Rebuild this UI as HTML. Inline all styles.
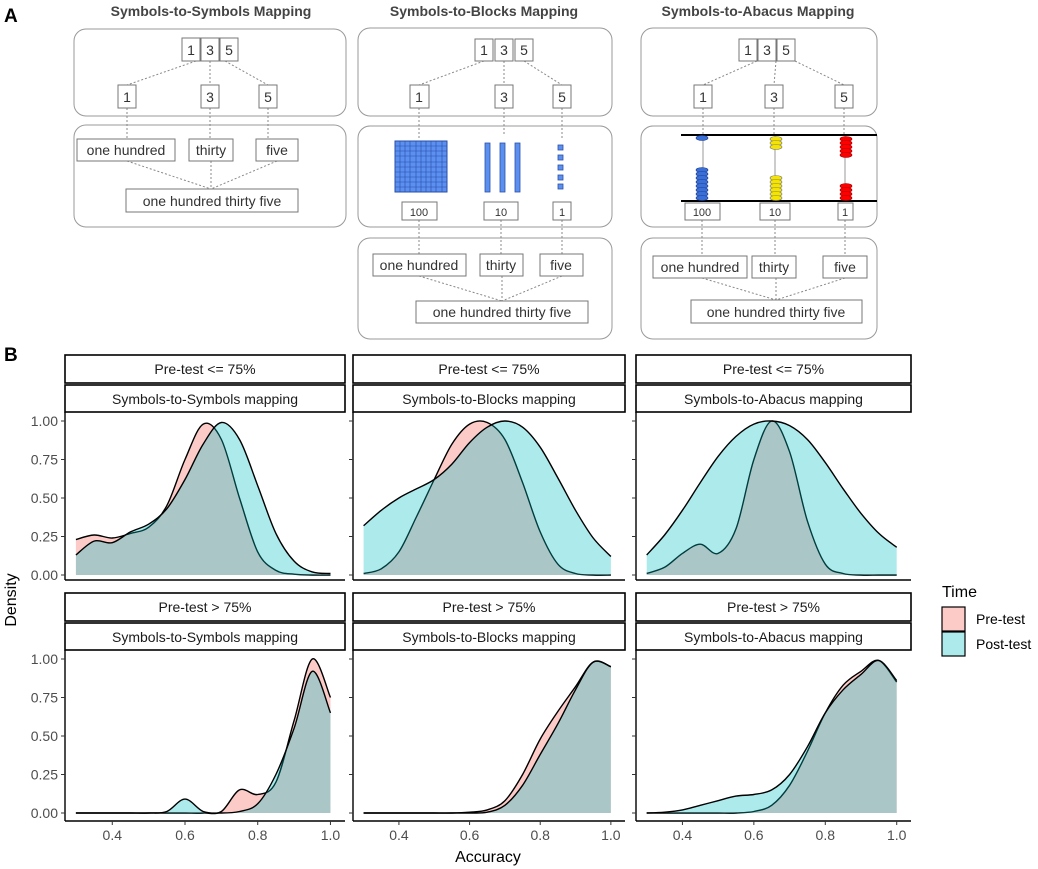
<!DOCTYPE html>
<html><head><meta charset="utf-8"><style>
body{margin:0;background:#fff}
svg{display:block;font-family:"Liberation Sans",Arial,sans-serif}
</style></head><body>
<svg id="fig" width="1038" height="869" viewBox="0 0 1038 869" xmlns="http://www.w3.org/2000/svg">
<rect width="1038" height="869" fill="#fff"/>
<g id="panelA" font-size="14" fill="#333">
<text x="4" y="22" font-size="19" font-weight="bold" fill="#000">A</text>
<!-- column 1 -->
<text x="211" y="16" text-anchor="middle" font-size="14" font-weight="bold" fill="#444">Symbols-to-Symbols Mapping</text>
<rect x="74" y="29" width="272" height="87" rx="12" fill="none" stroke="#999"/>
<rect x="74" y="125" width="272" height="102" rx="12" fill="none" stroke="#999"/>
<g stroke="#888" stroke-dasharray="2,2" fill="none">
<path d="M196 61 L127 85 M210 61 L210 85 M225 61 L268 85 M127 108 L127 139 M210 108 L210 139 M268 108 L268 139 M127 161 L211 189 M211 161 L211 189 M277 161 L211 189"/>
</g>
<g fill="#fff" stroke="#777">
<rect x="182" y="38" width="18" height="23"/><rect x="201" y="38" width="18" height="23"/><rect x="220" y="38" width="18" height="23"/>
<rect x="118" y="85" width="18" height="23"/><rect x="201" y="85" width="18" height="23"/><rect x="259" y="85" width="18" height="23"/>
<rect x="77" y="139" width="98" height="22"/><rect x="189" y="139" width="44" height="22"/><rect x="256" y="139" width="42" height="22"/>
<rect x="126" y="189" width="172" height="23"/>
</g>
<g text-anchor="middle">
<text x="191" y="55">1</text><text x="210" y="55">3</text><text x="229" y="55">5</text>
<text x="127" y="102">1</text><text x="210" y="102">3</text><text x="268" y="102">5</text>
<text x="126" y="155">one hundred</text><text x="211" y="155">thirty</text><text x="277" y="155">five</text>
<text x="212" y="206">one hundred thirty five</text>
</g>
<!-- column 2 -->
<text x="484" y="16" text-anchor="middle" font-size="14" font-weight="bold" fill="#444">Symbols-to-Blocks Mapping</text>
<rect x="358" y="28" width="254" height="88" rx="12" fill="none" stroke="#999"/>
<rect x="358" y="126" width="254" height="101" rx="12" fill="none" stroke="#999"/>
<rect x="358" y="238" width="254" height="101" rx="12" fill="none" stroke="#999"/>
<g stroke="#888" stroke-dasharray="2,2" fill="none">
<path d="M484 61 L419 85 M504 61 L504 85 M524 61 L562 85 M419 108 L419 138 M504 108 L504 134 M562 108 L562 140 M419 220 L419 254 M501 220 L501 254 M562 220 L562 254 M419 276 L502 301 M502 276 L502 301 M562 276 L502 301"/>
</g>
<g fill="#fff" stroke="#777">
<rect x="475" y="39" width="18" height="22"/><rect x="495" y="39" width="18" height="22"/><rect x="515" y="39" width="18" height="22"/>
<rect x="410" y="85" width="19" height="23"/><rect x="495" y="85" width="18" height="23"/><rect x="553" y="85" width="18" height="23"/>
<rect x="402" y="202" width="35" height="18"/><rect x="484" y="202" width="34" height="18"/><rect x="553" y="202" width="18" height="18"/>
<rect x="373" y="254" width="93" height="22"/><rect x="480" y="254" width="43" height="22"/><rect x="540" y="254" width="43" height="22"/>
<rect x="416" y="301" width="172" height="22"/>
</g>
<g text-anchor="middle">
<text x="484" y="55">1</text><text x="504" y="55">3</text><text x="524" y="55">5</text>
<text x="419" y="102">1</text><text x="504" y="102">3</text><text x="562" y="102">5</text>
<text x="419" y="216" font-size="11">100</text><text x="501" y="216" font-size="11">10</text><text x="562" y="216" font-size="11">1</text>
<text x="419" y="270">one hundred</text><text x="501" y="270">thirty</text><text x="561" y="270">five</text>
<text x="502" y="317">one hundred thirty five</text>
</g>
<g>
<rect x="395" y="141" width="52" height="51" fill="#5b8ff0" stroke="#2a4fa8"/>
<path d="M400 141V192M405 141V192M410 141V192M416 141V192M421 141V192M426 141V192M431 141V192M436 141V192M442 141V192M395 146H447M395 151H447M395 156H447M395 162H447M395 167H447M395 172H447M395 177H447M395 182H447M395 187H447" stroke="#2a4fa8" stroke-width="0.6"/>
</g>
<g fill="#5b8ff0" stroke="#2a4fa8" stroke-width="0.8">
<rect x="485" y="143" width="5" height="49"/><rect x="500" y="143" width="5" height="49"/><rect x="515" y="143" width="5" height="49"/>
</g>
<g fill="#5b8ff0" stroke="#2a4fa8" stroke-width="0.8">
<rect x="558" y="145" width="5" height="5"/><rect x="558" y="155" width="5" height="5"/><rect x="558" y="165" width="5" height="5"/><rect x="558" y="175" width="5" height="5"/><rect x="558" y="184" width="5" height="5"/>
</g>
<!-- column 3 -->
<text x="758" y="16" text-anchor="middle" font-size="14" font-weight="bold" fill="#444">Symbols-to-Abacus Mapping</text>
<rect x="641" y="28" width="236" height="88" rx="12" fill="none" stroke="#999"/>
<rect x="641" y="126" width="236" height="101" rx="12" fill="none" stroke="#999"/>
<rect x="641" y="238" width="236" height="101" rx="12" fill="none" stroke="#999"/>
<g stroke="#888" stroke-dasharray="2,2" fill="none">
<path d="M757 61 L703 85 M776 61 L774 85 M795 61 L844 85 M703 108 L703 134 M774 108 L774 134 M844 108 L844 134 M702 220 L702 256 M775 220 L775 256 M845 220 L845 256 M702 278 L776 300 M776 278 L776 300 M845 278 L776 300"/>
</g>
<g>
<path d="M703 135V201M775 135V201M845 135V201" stroke="#999"/>
<path d="M681 135H877M681 201H877" stroke="#000" stroke-width="2"/>
<g fill="#3a6fd8" stroke="#1a3a8a" stroke-width="0.6">
<ellipse cx="702" cy="138" rx="6" ry="2.5"/>
<ellipse cx="702" cy="170" rx="6" ry="2.5"/><ellipse cx="702" cy="174" rx="6" ry="2.5"/><ellipse cx="702" cy="178" rx="6" ry="2.5"/><ellipse cx="702" cy="182" rx="6" ry="2.5"/><ellipse cx="702" cy="186" rx="6" ry="2.5"/><ellipse cx="702" cy="190" rx="6" ry="2.5"/><ellipse cx="702" cy="194" rx="6" ry="2.5"/><ellipse cx="702" cy="198" rx="6" ry="2.5"/>
</g>
<g fill="#f5e400" stroke="#777" stroke-width="0.6">
<ellipse cx="776" cy="139" rx="6" ry="2.5"/><ellipse cx="776" cy="143" rx="6" ry="2.5"/><ellipse cx="776" cy="147" rx="6" ry="2.5"/>
<ellipse cx="776" cy="178" rx="6" ry="2.5"/><ellipse cx="776" cy="182" rx="6" ry="2.5"/><ellipse cx="776" cy="186" rx="6" ry="2.5"/><ellipse cx="776" cy="190" rx="6" ry="2.5"/><ellipse cx="776" cy="194" rx="6" ry="2.5"/><ellipse cx="776" cy="198" rx="6" ry="2.5"/>
</g>
<g fill="#f00" stroke="#900" stroke-width="0.6">
<ellipse cx="846" cy="139" rx="6" ry="2.5"/><ellipse cx="846" cy="143" rx="6" ry="2.5"/><ellipse cx="846" cy="147" rx="6" ry="2.5"/><ellipse cx="846" cy="151" rx="6" ry="2.5"/><ellipse cx="846" cy="155" rx="6" ry="2.5"/>
<ellipse cx="846" cy="186" rx="6" ry="2.5"/><ellipse cx="846" cy="190" rx="6" ry="2.5"/><ellipse cx="846" cy="194" rx="6" ry="2.5"/><ellipse cx="846" cy="198" rx="6" ry="2.5"/>
</g>
</g>
<g fill="#fff" stroke="#777">
<rect x="739" y="39" width="18" height="22"/><rect x="758" y="39" width="18" height="22"/><rect x="777" y="39" width="18" height="22"/>
<rect x="694" y="85" width="18" height="23"/><rect x="765" y="85" width="18" height="23"/><rect x="835" y="85" width="18" height="23"/>
<rect x="685" y="203" width="35" height="17"/><rect x="760" y="203" width="30" height="17"/><rect x="838" y="203" width="15" height="17"/>
<rect x="653" y="256" width="94" height="22"/><rect x="752" y="256" width="44" height="22"/><rect x="823" y="256" width="44" height="22"/>
<rect x="691" y="300" width="171" height="23"/>
</g>
<g text-anchor="middle">
<text x="748" y="55">1</text><text x="767" y="55">3</text><text x="786" y="55">5</text>
<text x="703" y="102">1</text><text x="774" y="102">3</text><text x="844" y="102">5</text>
<text x="702" y="216" font-size="11">100</text><text x="775" y="216" font-size="11">10</text><text x="845" y="216" font-size="11">1</text>
<text x="700" y="272">one hundred</text><text x="774" y="272">thirty</text><text x="845" y="272">five</text>
<text x="776" y="317">one hundred thirty five</text>
</g>
</g>
<g id="panelB"></g>
</svg>
<script>
const xGrid=[0.3,0.35,0.4,0.45,0.5,0.55,0.6,0.65,0.7,0.75,0.8,0.85,0.9,0.95,1.0];
const xTicks=[0.4,0.6,0.8,1.0];
const xTickLabels=["0.4","0.6","0.8","1.0"];
const yTicks=[0,0.25,0.5,0.75,1];
const yTickLabels=["0.00","0.25","0.50","0.75","1.00"];
const rowLabels=["Pre-test <= 75%","Pre-test > 75%"];
const colLabels=["Symbols-to-Symbols mapping","Symbols-to-Blocks mapping","Symbols-to-Abacus mapping"];
const seriesNames=["Pre-test","Post-test"];
const preLowS2S=[0.23,0.26,0.24,0.27,0.31,0.45,0.75,0.98,0.88,0.5,0.15,0.03,0.005,0,0];
const postLowS2S=[0.13,0.22,0.21,0.28,0.33,0.43,0.62,0.85,0.99,0.88,0.58,0.27,0.09,0.02,0.01];
const preLowS2B=[0.01,0.04,0.15,0.38,0.62,0.85,0.98,0.99,0.88,0.6,0.28,0.07,0.01,0,0];
const postLowS2B=[0.32,0.42,0.5,0.56,0.62,0.72,0.86,0.96,1.0,0.96,0.83,0.63,0.42,0.24,0.12];
const preLowS2A=[0.01,0.05,0.14,0.2,0.14,0.3,0.75,1.0,0.8,0.35,0.07,0.01,0,0,0];
const postLowS2A=[0.13,0.26,0.42,0.6,0.77,0.9,0.98,1.0,0.97,0.88,0.73,0.56,0.4,0.27,0.18];
const preHighS2S=[0,0,0,0,0,0,0,0,0.01,0.15,0.12,0.2,0.6,1.0,0.75];
const postHighS2S=[0,0,0,0,0,0.01,0.09,0.01,0,0.01,0.06,0.25,0.55,0.92,0.65];
const preHighS2B=[0,0,0,0,0,0,0.005,0.02,0.08,0.25,0.48,0.66,0.82,0.98,0.95];
const postHighS2B=[0,0,0,0,0,0,0,0.005,0.05,0.18,0.38,0.58,0.8,0.98,0.95];
const preHighS2A=[0,0,0,0,0,0,0.01,0.05,0.18,0.4,0.65,0.83,0.92,0.99,0.85];
const postHighS2A=[0,0.005,0.02,0.05,0.08,0.11,0.12,0.15,0.25,0.43,0.65,0.8,0.9,0.99,0.86];
const panelData=[[[preLowS2S,postLowS2S],[preLowS2B,postLowS2B],[preLowS2A,postLowS2A]],
 [[preHighS2S,postHighS2S],[preHighS2B,postHighS2B],[preHighS2A,postHighS2A]]];

const NS="http://www.w3.org/2000/svg";
const root=document.getElementById('panelB');
function mk(tag,attrs,parent){const e=document.createElementNS(NS,tag);for(const k in attrs)e.setAttribute(k,attrs[k]);(parent||root).appendChild(e);return e;}
const colL=[65,353,636], colW=[280,272,275];
const rowStrip=[355,593], rowY0=[575,813], rowY1=[421,659], rowAxis=[580,821];
const D0=0.27,D1=1.04;
function xs(c,v){return colL[c]+(v-D0)/(D1-D0)*colW[c];}
function ys(r,v){return rowY0[r]+(rowY1[r]-rowY0[r])*v;}
function smooth(pts){let d="M"+pts[0][0]+" "+pts[0][1];for(let i=0;i<pts.length-1;i++){const p0=pts[Math.max(0,i-1)],p1=pts[i],p2=pts[i+1],p3=pts[Math.min(pts.length-1,i+2)];const c1x=p1[0]+(p2[0]-p0[0])/6,c1y=p1[1]+(p2[1]-p0[1])/6,c2x=p2[0]-(p3[0]-p1[0])/6,c2y=p2[1]-(p3[1]-p1[1])/6;d+=` C${c1x.toFixed(1)} ${c1y.toFixed(1)} ${c2x.toFixed(1)} ${c2y.toFixed(1)} ${p2[0].toFixed(1)} ${p2[1].toFixed(1)}`;}return d;}
const fills=["#F8766D","#00BFC4"];
const t=mk('text',{x:4,y:361,'font-size':19,'font-weight':'bold',fill:'#000'});t.textContent="B";


for(let r=0;r<2;r++){for(let c=0;c<3;c++){
 const g=mk('g',{});
 
 
 const s1=mk('rect',{x:colL[c],y:rowStrip[r],width:colW[c],height:28,fill:'#fff',stroke:'#000','stroke-width':1.6},g);
 
 
 const s2=mk('rect',{x:colL[c],y:rowStrip[r]+30,width:colW[c],height:27,fill:'#fff',stroke:'#000','stroke-width':1.6},g);
 
 
 const tx1=mk('text',{x:colL[c]+colW[c]/2,y:rowStrip[r]+19,'text-anchor':'middle','font-size':14,fill:'#1a1a1a'},g);tx1.textContent=rowLabels[r];
 
 
 const tx2=mk('text',{x:colL[c]+colW[c]/2,y:rowStrip[r]+49,'text-anchor':'middle','font-size':14,fill:'#1a1a1a'},g);tx2.textContent=colLabels[c];
 
 
 for(let s=0;s<2;s++){
  const vals=panelData[r][c][s];
  const pts=xGrid.map((x,i)=>[xs(c,x),ys(r,vals[i])]);
  const line=smooth(pts);
  const last=pts[pts.length-1],first=pts[0];
  const area=mk('path',{d:line+` L${last[0]} ${ys(r,0)} L${first[0]} ${ys(r,0)} Z`,fill:fills[s],'fill-opacity':s?0.32:0.38,stroke:'none'},g);
  
  
  const ln=mk('path',{d:line,fill:'none',stroke:'#000','stroke-width':1.4},g);
  
  
 }
 const xa=mk('line',{x1:colL[c],x2:colL[c]+colW[c],y1:rowAxis[r],y2:rowAxis[r],stroke:'#000','stroke-width':1.4},g);
 
 
 const ya=mk('line',{x1:colL[c],x2:colL[c],y1:rowStrip[r]+57,y2:rowAxis[r],stroke:'#000','stroke-width':1.4},g);
 
 
 yTicks.forEach((v,i)=>{
  mk('line',{x1:colL[c]-4,x2:colL[c],y1:ys(r,v),y2:ys(r,v),stroke:'#333'},g);
  if(c===0){const l=mk('text',{x:colL[c]-7,y:ys(r,v)+5,'text-anchor':'end','font-size':14,fill:'#4d4d4d'},g);l.textContent=yTickLabels[i];
  
  }
 });
 if(r===1){xTicks.forEach((v,i)=>{
  mk('line',{x1:xs(c,v),x2:xs(c,v),y1:rowAxis[r],y2:rowAxis[r]+4,stroke:'#333'},g);
  const l=mk('text',{x:xs(c,v),y:rowAxis[r]+19,'text-anchor':'middle','font-size':14,fill:'#4d4d4d'},g);l.textContent=xTickLabels[i];
  
  
 });}
}}
const xt=mk('text',{x:488,y:862,'text-anchor':'middle','font-size':16,fill:'#000'});xt.textContent="Accuracy";


const yt=mk('text',{x:0,y:0,'text-anchor':'middle','font-size':16,fill:'#000',transform:'translate(16,600) rotate(-90)'});yt.textContent="Density";


const lg=mk('g',{});


const lt=mk('text',{x:942,y:597,'font-size':16,fill:'#000'},lg);lt.textContent="Time";


seriesNames.forEach((n,i)=>{
 const k=mk('rect',{x:942,y:607+i*25,width:23,height:24,fill:fills[i],'fill-opacity':i?0.32:0.38,stroke:'#000','stroke-width':1.2},lg);
 
 
 const l=mk('text',{x:976,y:624+i*25,'font-size':14,fill:'#000'},lg);l.textContent=n;
 
 
});
</script>
</body></html>
